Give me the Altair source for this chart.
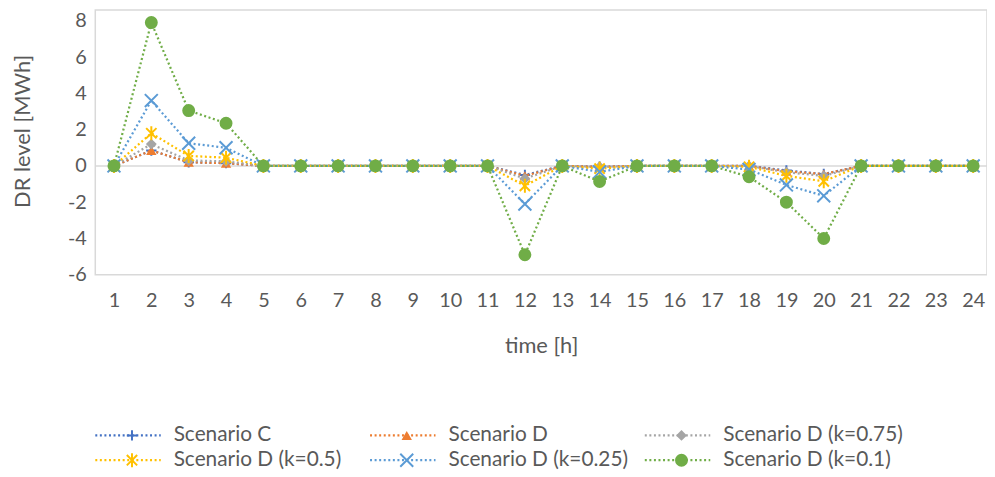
import altair as alt
import pandas as pd

hours = list(range(1, 25))
series_names = [
    "Scenario C",
    "Scenario D",
    "Scenario D (k=0.75)",
    "Scenario D (k=0.5)",
    "Scenario D (k=0.25)",
    "Scenario D (k=0.1)",
]
scenario_c = [0, 0.85, 0.2, 0.15, 0, 0, 0, 0, 0, 0, 0, -0.5, 0, -0.05, 0, 0, 0, 0, -0.25, -0.45, 0, 0, 0, 0]
scenario_d = [0, 0.85, 0.2, 0.15, 0, 0, 0, 0, 0, 0, 0, -0.55, 0, -0.05, 0, 0, 0, 0, -0.3, -0.45, 0, 0, 0, 0]
scenario_d_075 = [0, 1.2, 0.3, 0.25, 0, 0, 0, 0, 0, 0, 0, -0.7, 0, -0.05, 0, 0, 0, 0, -0.35, -0.55, 0, 0, 0, 0]
scenario_d_05 = [0, 1.8, 0.55, 0.45, 0, 0, 0, 0, 0, 0, 0, -1.1, 0, -0.15, 0, 0, 0, -0.05, -0.55, -0.85, 0, 0, 0, 0]
scenario_d_025 = [0, 3.6, 1.25, 1.0, 0, 0, 0, 0, 0, 0, 0, -2.1, 0, -0.33, 0, 0, 0, -0.2, -1.05, -1.65, 0, 0, 0, 0]
scenario_d_01 = [0, 7.9, 3.05, 2.35, 0, 0, 0, 0, 0, 0, 0, -4.9, 0, -0.86, 0, 0, 0, -0.6, -2.0, -4.0, 0, 0, 0, 0]
y_ticks = [-6, -4, -2, 0, 2, 4, 6, 8]

series_values = [scenario_c, scenario_d, scenario_d_075, scenario_d_05, scenario_d_025, scenario_d_01]

colors = ["#4472C4", "#ED7D31", "#A5A5A5", "#FFC000", "#5B9BD5", "#70AD47"]
shapes = [
    "M-1,0H1M0,-1V1",
    "triangle-up",
    "diamond",
    "M-0.85,-0.85L0.85,0.85M-0.85,0.85L0.85,-0.85M0,-1.15V1.15",
    "M-1,-1L1,1M-1,1L1,-1",
    "circle",
]
filled = [False, True, True, False, False, True]
sizes = [110, 110, 120, 150, 170, 170]

FONT = "Lato"
TXT = "#595959"
GRID = "#D9D9D9"

x_scale = alt.Scale(domain=[0.5, 24.37], nice=False, zero=False)
y_scale = alt.Scale(domain=[-6, 8.6], nice=False, zero=False)

x_enc = alt.X(
    "hour:Q",
    scale=x_scale,
    axis=alt.Axis(
        values=hours, title="time [h]", grid=False, ticks=False, tickSize=0, domain=False,
        labelFontSize=20, labelFont=FONT, labelColor=TXT, labelPadding=26,
        labelBaseline="middle", labelFlush=False, labelOverlap=False,
        labelExpr="'' + datum.value",
        titleFontSize=22, titleFont=FONT, titleColor=TXT, titleFontWeight="normal",
        titleY=71, titleBaseline="middle",
    ),
)
y_enc = alt.Y(
    "value:Q",
    scale=y_scale,
    axis=alt.Axis(
        values=y_ticks, title="DR level [MWh]", grid=False, ticks=False, tickSize=0, domain=False,
        labelFontSize=20, labelFont=FONT, labelColor=TXT, labelPadding=9,
        labelBaseline="middle", labelOverlap=False, labelFlush=False,
        labelExpr="'' + datum.value",
        titleFontSize=22, titleFont=FONT, titleColor=TXT, titleFontWeight="normal",
        titleX=-73, titleY=122, titleAngle=-90, titleBaseline="middle", titleAlign="center",
    ),
)

zero_df = pd.DataFrame({"value": [0]})
zero_rule = alt.Chart(zero_df).mark_rule(color=GRID, strokeWidth=1.5).encode(y=y_enc)

main_layers = [zero_rule]
for i, name in enumerate(series_names):
    df = pd.DataFrame({"hour": hours, "value": series_values[i]})
    base = alt.Chart(df)
    line = base.mark_line(
        color=colors[i], strokeWidth=2.25, strokeDash=[2, 2.6]
    ).encode(x=x_enc, y=y_enc)
    if filled[i]:
        pts = base.mark_point(
            shape=shapes[i], filled=True, fill=colors[i], color=colors[i],
            size=sizes[i], opacity=1, strokeWidth=0
        ).encode(x=x_enc, y=y_enc)
    else:
        pts = base.mark_point(
            shape=shapes[i], filled=False, color=colors[i], stroke=colors[i],
            size=sizes[i], opacity=1, strokeWidth=2
        ).encode(x=x_enc, y=y_enc)
    main_layers += [line, pts]

main = alt.layer(*main_layers)

# legend built from the series list (3 columns x 2 rows)
leg_x = alt.Scale(domain=[0, 2], range=[0, 554])
leg_y = alt.Scale(domain=[0, 1], range=[429, 454])
legend_layers = []
for i, name in enumerate(series_names):
    ldf = pd.DataFrame({"col": [i % 3], "row": [i // 3], "name": [name]})
    lb = alt.Chart(ldf)
    lx = alt.X("col:Q", scale=leg_x, axis=None)
    ly = alt.Y("row:Q", scale=leg_y, axis=None)
    seg = lb.mark_rule(
        color=colors[i], strokeWidth=2.25, strokeDash=[2, 2.6], xOffset=0, x2Offset=66
    ).encode(x=lx, x2="col:Q", y=ly)
    if filled[i]:
        sym = lb.mark_point(
            shape=shapes[i], filled=True, fill=colors[i], color=colors[i],
            size=sizes[i], opacity=1, strokeWidth=0, xOffset=37
        ).encode(x=lx, y=ly)
    else:
        sym = lb.mark_point(
            shape=shapes[i], filled=False, color=colors[i], stroke=colors[i],
            size=sizes[i], opacity=1, strokeWidth=2, xOffset=37
        ).encode(x=lx, y=ly)
    txt = lb.mark_text(
        align="left", baseline="middle", xOffset=79, fontSize=21, font=FONT, color=TXT
    ).encode(x=lx, y=ly, text="name:N")
    legend_layers += [seg, sym, txt]

legend = alt.layer(*legend_layers)

chart = (
    alt.layer(main, legend)
    .resolve_scale(x="independent", y="independent")
    .properties(
        width=899,
        height=267,
        autosize=alt.AutoSizeParams(type="none"),
        padding={"left": 88, "top": 0, "right": 0, "bottom": 200},
        background="white",
    )
    .configure_view(stroke=GRID, strokeWidth=1.5)
)

chart.save("out.html", embed_options={"renderer": "svg", "actions": False})
